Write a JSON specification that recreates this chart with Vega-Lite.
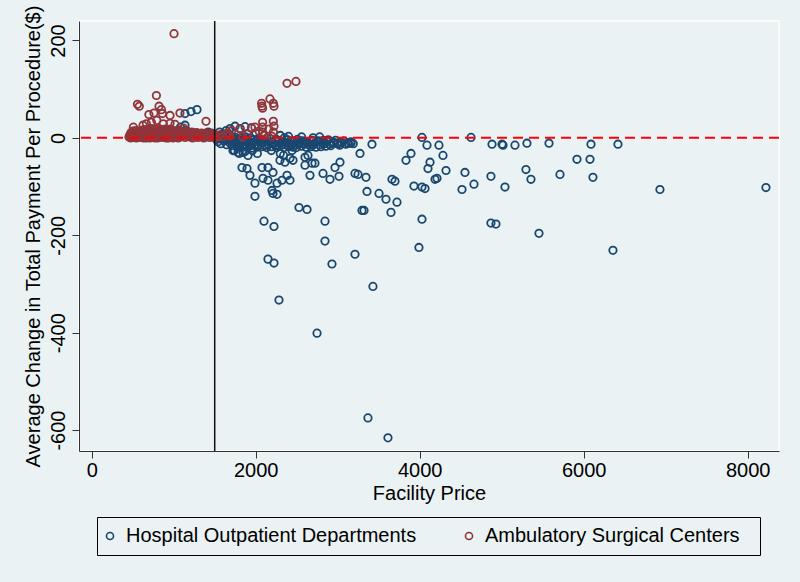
{
  "$schema": "https://vega.github.io/schema/vega-lite/v6.json",
  "width": 700,
  "height": 430,
  "autosize": {"type": "none"},
  "padding": {"left": 79, "top": 21, "right": 21, "bottom": 131},
  "background": "#EAF2F3",
  "config": {
    "view": {"stroke": "#FFFFFF", "strokeWidth": 1.5, "fill": "#EAF2F3"},
    "font": "Liberation Sans",
    "axis": {
      "labelFont": "Liberation Sans", "titleFont": "Liberation Sans",
      "labelFontSize": 20, "titleFontSize": 20, "titleFontWeight": "normal",
      "labelColor": "#000000", "titleColor": "#000000",
      "domainColor": "#333333", "tickColor": "#333333", "domainWidth": 1, "tickWidth": 1,
      "grid": false, "tickSize": 7
    },
    "legend": {
      "labelFont": "Liberation Sans", "labelFontSize": 20, "labelColor": "#000000",
      "labelLimit": 500, "strokeColor": "#000000", "fillColor": "#EAF2F3",
      "padding": 9, "columnPadding": 45, "labelOffset": 6, "symbolOffset": -6,
      "symbolSize": 50, "symbolStrokeWidth": 1.6
    }
  },
  "datasets": {
    "pts": [
      {"x":6089,"y":-13,"g":"H"},{"x":6418,"y":-13,"g":"H"},{"x":5918,"y":-44,"g":"H"},{"x":6077,"y":-44,"g":"H"},
      {"x":5711,"y":-75,"g":"H"},{"x":6113,"y":-81,"g":"H"},{"x":6930,"y":-106,"g":"H"},{"x":8223,"y":-102,"g":"H"},
      {"x":6357,"y":-231,"g":"H"},{"x":2943,"y":-11,"g":"H"},{"x":2992,"y":-11,"g":"H"},{"x":3028,"y":-11,"g":"H"},
      {"x":3126,"y":-11,"g":"H"},{"x":3163,"y":-11,"g":"H"},{"x":3418,"y":-13,"g":"H"},{"x":3272,"y":-32,"g":"H"},
      {"x":3028,"y":-50,"g":"H"},{"x":2967,"y":-61,"g":"H"},{"x":2906,"y":-85,"g":"H"},{"x":3016,"y":-79,"g":"H"},
      {"x":3211,"y":-73,"g":"H"},{"x":3248,"y":-75,"g":"H"},{"x":3345,"y":-81,"g":"H"},{"x":3357,"y":-110,"g":"H"},
      {"x":3504,"y":-114,"g":"H"},{"x":3589,"y":-126,"g":"H"},{"x":3723,"y":-132,"g":"H"},{"x":3650,"y":-153,"g":"H"},
      {"x":3296,"y":-149,"g":"H"},{"x":3321,"y":-149,"g":"H"},{"x":3662,"y":-85,"g":"H"},{"x":3699,"y":-89,"g":"H"},
      {"x":3833,"y":-46,"g":"H"},{"x":3894,"y":-32,"g":"H"},{"x":3930,"y":-99,"g":"H"},{"x":4028,"y":-101,"g":"H"},
      {"x":4065,"y":-104,"g":"H"},{"x":4028,"y":1,"g":"H"},{"x":4089,"y":-15,"g":"H"},{"x":4235,"y":-15,"g":"H"},
      {"x":4284,"y":-36,"g":"H"},{"x":4126,"y":-50,"g":"H"},{"x":4101,"y":-63,"g":"H"},{"x":4321,"y":-67,"g":"H"},
      {"x":4187,"y":-85,"g":"H"},{"x":4211,"y":-83,"g":"H"},{"x":4028,"y":-167,"g":"H"},{"x":3991,"y":-225,"g":"H"},
      {"x":4626,"y":1,"g":"H"},{"x":4882,"y":-13,"g":"H"},{"x":5004,"y":-13,"g":"H"},{"x":5016,"y":-15,"g":"H"},
      {"x":5162,"y":-15,"g":"H"},{"x":5308,"y":-11,"g":"H"},{"x":5577,"y":-11,"g":"H"},{"x":5296,"y":-65,"g":"H"},
      {"x":5357,"y":-85,"g":"H"},{"x":4869,"y":-79,"g":"H"},{"x":5040,"y":-101,"g":"H"},{"x":4552,"y":-71,"g":"H"},
      {"x":4662,"y":-95,"g":"H"},{"x":4516,"y":-106,"g":"H"},{"x":4869,"y":-175,"g":"H"},{"x":4930,"y":-177,"g":"H"},
      {"x":5455,"y":-196,"g":"H"},{"x":3430,"y":-305,"g":"H"},{"x":3211,"y":-239,"g":"H"},{"x":2930,"y":-259,"g":"H"},
      {"x":2845,"y":-212,"g":"H"},{"x":2845,"y":-171,"g":"H"},{"x":2101,"y":-171,"g":"H"},{"x":2223,"y":-182,"g":"H"},
      {"x":2150,"y":-249,"g":"H"},{"x":2223,"y":-257,"g":"H"},{"x":2284,"y":-333,"g":"H"},{"x":2748,"y":-401,"g":"H"},
      {"x":3369,"y":-575,"g":"H"},{"x":3613,"y":-616,"g":"H"},{"x":2528,"y":-143,"g":"H"},{"x":2626,"y":-147,"g":"H"},
      {"x":1687,"y":19,"g":"H"},{"x":1809,"y":19,"g":"H"},{"x":1723,"y":-26,"g":"H"},{"x":1784,"y":-30,"g":"H"},
      {"x":1845,"y":-30,"g":"H"},{"x":1906,"y":-36,"g":"H"},{"x":1833,"y":-61,"g":"H"},{"x":1894,"y":-63,"g":"H"},
      {"x":1930,"y":-77,"g":"H"},{"x":2077,"y":-61,"g":"H"},{"x":1991,"y":-93,"g":"H"},{"x":1991,"y":-120,"g":"H"},
      {"x":2150,"y":-61,"g":"H"},{"x":2211,"y":-71,"g":"H"},{"x":2089,"y":-83,"g":"H"},{"x":2150,"y":-87,"g":"H"},
      {"x":2260,"y":-93,"g":"H"},{"x":2199,"y":-108,"g":"H"},{"x":2211,"y":-114,"g":"H"},{"x":2260,"y":-116,"g":"H"},
      {"x":2321,"y":-87,"g":"H"},{"x":2296,"y":-46,"g":"H"},{"x":2382,"y":-77,"g":"H"},{"x":2418,"y":-87,"g":"H"},
      {"x":2357,"y":-50,"g":"H"},{"x":2418,"y":-42,"g":"H"},{"x":2455,"y":-46,"g":"H"},{"x":2443,"y":-26,"g":"H"},
      {"x":2455,"y":-19,"g":"H"},{"x":2601,"y":-40,"g":"H"},{"x":2638,"y":-36,"g":"H"},{"x":2601,"y":-56,"g":"H"},
      {"x":2687,"y":-52,"g":"H"},{"x":2723,"y":-52,"g":"H"},{"x":2662,"y":-77,"g":"H"},{"x":2821,"y":-73,"g":"H"},
      {"x":1740,"y":-26,"g":"H"},{"x":1800,"y":-32,"g":"H"},{"x":1870,"y":-28,"g":"H"},{"x":1960,"y":-26,"g":"H"},
      {"x":2020,"y":-32,"g":"H"},{"x":2190,"y":-26,"g":"H"},{"x":2300,"y":-32,"g":"H"},{"x":2340,"y":-36,"g":"H"},
      {"x":1530,"y":3,"g":"H"},{"x":1560,"y":-2,"g":"H"},{"x":1590,"y":5,"g":"H"},{"x":1620,"y":0,"g":"H"},
      {"x":1650,"y":-4,"g":"H"},{"x":1680,"y":2,"g":"H"},{"x":1700,"y":-6,"g":"H"},{"x":1730,"y":-1,"g":"H"},
      {"x":1760,"y":-8,"g":"H"},{"x":1790,"y":-3,"g":"H"},{"x":1820,"y":-10,"g":"H"},{"x":1850,"y":-5,"g":"H"},
      {"x":1880,"y":-2,"g":"H"},{"x":1910,"y":-9,"g":"H"},{"x":1940,"y":-12,"g":"H"},{"x":1970,"y":-4,"g":"H"},
      {"x":2000,"y":-7,"g":"H"},{"x":2030,"y":-14,"g":"H"},{"x":2060,"y":-3,"g":"H"},{"x":2090,"y":-10,"g":"H"},
      {"x":2120,"y":-6,"g":"H"},{"x":2150,"y":-13,"g":"H"},{"x":2180,"y":-2,"g":"H"},{"x":2210,"y":-9,"g":"H"},
      {"x":2240,"y":-16,"g":"H"},{"x":2270,"y":-5,"g":"H"},{"x":2300,"y":-11,"g":"H"},{"x":2330,"y":-7,"g":"H"},
      {"x":2360,"y":-14,"g":"H"},{"x":2390,"y":-4,"g":"H"},{"x":2420,"y":-12,"g":"H"},{"x":2450,"y":-8,"g":"H"},
      {"x":2480,"y":-15,"g":"H"},{"x":2510,"y":-3,"g":"H"},{"x":2540,"y":-10,"g":"H"},{"x":2570,"y":-6,"g":"H"},
      {"x":2600,"y":-13,"g":"H"},{"x":2630,"y":-9,"g":"H"},{"x":2660,"y":-15,"g":"H"},{"x":2690,"y":-5,"g":"H"},
      {"x":2720,"y":-11,"g":"H"},{"x":2750,"y":-8,"g":"H"},{"x":2780,"y":-14,"g":"H"},{"x":2810,"y":-10,"g":"H"},
      {"x":2840,"y":-12,"g":"H"},{"x":2870,"y":-7,"g":"H"},{"x":2900,"y":-13,"g":"H"},{"x":2950,"y":-9,"g":"H"},
      {"x":3000,"y":-12,"g":"H"},{"x":3050,"y":-10,"g":"H"},{"x":3100,"y":-13,"g":"H"},
      {"x":1540,"y":-8,"g":"H"},{"x":1575,"y":-12,"g":"H"},{"x":1610,"y":-6,"g":"H"},{"x":1645,"y":-14,"g":"H"},
      {"x":1675,"y":-9,"g":"H"},{"x":1710,"y":-16,"g":"H"},{"x":1745,"y":-11,"g":"H"},{"x":1775,"y":-18,"g":"H"},
      {"x":1805,"y":-13,"g":"H"},{"x":1835,"y":-20,"g":"H"},{"x":1865,"y":-15,"g":"H"},{"x":1895,"y":-19,"g":"H"},
      {"x":1925,"y":-17,"g":"H"},{"x":1955,"y":-21,"g":"H"},{"x":1985,"y":-15,"g":"H"},{"x":2015,"y":-19,"g":"H"},
      {"x":2045,"y":-9,"g":"H"},{"x":2075,"y":-18,"g":"H"},{"x":2105,"y":-16,"g":"H"},{"x":2135,"y":-20,"g":"H"},
      {"x":2165,"y":-8,"g":"H"},{"x":2195,"y":-18,"g":"H"},{"x":2225,"y":-12,"g":"H"},{"x":2255,"y":-20,"g":"H"},
      {"x":2285,"y":-17,"g":"H"},{"x":2315,"y":-15,"g":"H"},{"x":2345,"y":-20,"g":"H"},{"x":2375,"y":-10,"g":"H"},
      {"x":2405,"y":-18,"g":"H"},{"x":2435,"y":-14,"g":"H"},{"x":2465,"y":-6,"g":"H"},{"x":2495,"y":-20,"g":"H"},
      {"x":2525,"y":-13,"g":"H"},{"x":2555,"y":-17,"g":"H"},{"x":2585,"y":-9,"g":"H"},{"x":2615,"y":-19,"g":"H"},
      {"x":2645,"y":-11,"g":"H"},{"x":2675,"y":-18,"g":"H"},{"x":2705,"y":-14,"g":"H"},{"x":2735,"y":-19,"g":"H"},
      {"x":2765,"y":-6,"g":"H"},{"x":2795,"y":-18,"g":"H"},{"x":2825,"y":-5,"g":"H"},{"x":2855,"y":-17,"g":"H"},
      {"x":2885,"y":-4,"g":"H"},{"x":2915,"y":-16,"g":"H"},{"x":2975,"y":-5,"g":"H"},{"x":3025,"y":-15,"g":"H"},
      {"x":3075,"y":-6,"g":"H"},{"x":3130,"y":-11,"g":"H"},{"x":3160,"y":-8,"g":"H"},{"x":3190,"y":-12,"g":"H"},
      {"x":1520,"y":-3,"g":"H"},{"x":1545,"y":1,"g":"H"},{"x":1570,"y":4,"g":"H"},{"x":1605,"y":-1,"g":"H"},
      {"x":1635,"y":3,"g":"H"},{"x":1665,"y":-2,"g":"H"},{"x":1695,"y":4,"g":"H"},{"x":1725,"y":-4,"g":"H"},
      {"x":1755,"y":1,"g":"H"},{"x":1785,"y":-6,"g":"H"},{"x":1815,"y":0,"g":"H"},{"x":1845,"y":-8,"g":"H"},
      {"x":1875,"y":2,"g":"H"},{"x":1905,"y":-4,"g":"H"},{"x":1935,"y":0,"g":"H"},{"x":1965,"y":-9,"g":"H"},
      {"x":2025,"y":-2,"g":"H"},{"x":2140,"y":-1,"g":"H"},{"x":2250,"y":-3,"g":"H"},{"x":2350,"y":0,"g":"H"},
      {"x":1560,"y":12,"g":"H"},{"x":1600,"y":8,"g":"H"},{"x":1748,"y":24,"g":"H"},{"x":1870,"y":23,"g":"H"},
      {"x":1948,"y":20,"g":"H"},{"x":1640,"y":15,"g":"H"},{"x":2000,"y":10,"g":"H"},{"x":2300,"y":5,"g":"H"},
      {"x":2400,"y":3,"g":"H"},{"x":2700,"y":0,"g":"H"},{"x":2780,"y":2,"g":"H"},{"x":2560,"y":2,"g":"H"},
      {"x":1082,"y":22,"g":"H"},{"x":1138,"y":26,"g":"H"},{"x":1138,"y":50,"g":"H"},{"x":1211,"y":54,"g":"H"},
      {"x":1284,"y":58,"g":"H"},{"x":1400,"y":5,"g":"H"},{"x":1200,"y":10,"g":"H"},{"x":1250,"y":5,"g":"H"},
      {"x":1300,"y":8,"g":"H"},{"x":1350,"y":3,"g":"H"},{"x":1450,"y":6,"g":"H"},{"x":1100,"y":4,"g":"H"},
      {"x":1000,"y":3,"g":"H"},{"x":950,"y":8,"g":"H"},{"x":1050,"y":12,"g":"H"},{"x":1150,"y":15,"g":"H"},
      {"x":1420,"y":12,"g":"H"},{"x":1480,"y":2,"g":"H"},

      {"x":455,"y":2,"g":"A"},{"x":465,"y":6,"g":"A"},{"x":475,"y":0,"g":"A"},{"x":485,"y":4,"g":"A"},
      {"x":495,"y":9,"g":"A"},{"x":505,"y":1,"g":"A"},{"x":515,"y":5,"g":"A"},{"x":525,"y":3,"g":"A"},
      {"x":535,"y":8,"g":"A"},{"x":545,"y":0,"g":"A"},{"x":555,"y":11,"g":"A"},{"x":565,"y":4,"g":"A"},
      {"x":575,"y":7,"g":"A"},{"x":585,"y":2,"g":"A"},{"x":595,"y":10,"g":"A"},{"x":605,"y":5,"g":"A"},
      {"x":615,"y":1,"g":"A"},{"x":625,"y":8,"g":"A"},{"x":635,"y":13,"g":"A"},{"x":645,"y":3,"g":"A"},
      {"x":655,"y":6,"g":"A"},{"x":665,"y":0,"g":"A"},{"x":675,"y":10,"g":"A"},{"x":685,"y":4,"g":"A"},
      {"x":695,"y":15,"g":"A"},{"x":705,"y":7,"g":"A"},{"x":715,"y":2,"g":"A"},{"x":725,"y":9,"g":"A"},
      {"x":735,"y":5,"g":"A"},{"x":745,"y":12,"g":"A"},{"x":755,"y":1,"g":"A"},{"x":765,"y":7,"g":"A"},
      {"x":775,"y":3,"g":"A"},{"x":785,"y":10,"g":"A"},{"x":795,"y":6,"g":"A"},{"x":805,"y":0,"g":"A"},
      {"x":815,"y":13,"g":"A"},{"x":825,"y":4,"g":"A"},{"x":835,"y":8,"g":"A"},{"x":845,"y":2,"g":"A"},
      {"x":855,"y":11,"g":"A"},{"x":865,"y":5,"g":"A"},{"x":875,"y":9,"g":"A"},{"x":885,"y":1,"g":"A"},
      {"x":895,"y":7,"g":"A"},{"x":905,"y":3,"g":"A"},{"x":915,"y":12,"g":"A"},{"x":925,"y":6,"g":"A"},
      {"x":935,"y":0,"g":"A"},{"x":945,"y":9,"g":"A"},{"x":955,"y":4,"g":"A"},{"x":965,"y":14,"g":"A"},
      {"x":975,"y":2,"g":"A"},{"x":985,"y":7,"g":"A"},{"x":995,"y":5,"g":"A"},{"x":1005,"y":10,"g":"A"},
      {"x":1015,"y":1,"g":"A"},{"x":1025,"y":6,"g":"A"},{"x":1035,"y":3,"g":"A"},{"x":1045,"y":8,"g":"A"},
      {"x":1055,"y":0,"g":"A"},{"x":1065,"y":5,"g":"A"},{"x":1075,"y":11,"g":"A"},{"x":1085,"y":2,"g":"A"},
      {"x":1095,"y":7,"g":"A"},{"x":1110,"y":4,"g":"A"},{"x":1125,"y":9,"g":"A"},{"x":1140,"y":1,"g":"A"},
      {"x":1155,"y":6,"g":"A"},{"x":1170,"y":3,"g":"A"},{"x":1185,"y":8,"g":"A"},{"x":1200,"y":2,"g":"A"},
      {"x":1215,"y":5,"g":"A"},{"x":1230,"y":0,"g":"A"},{"x":1245,"y":7,"g":"A"},{"x":1260,"y":3,"g":"A"},
      {"x":1275,"y":9,"g":"A"},{"x":1290,"y":1,"g":"A"},{"x":1305,"y":5,"g":"A"},{"x":1320,"y":2,"g":"A"},
      {"x":1335,"y":8,"g":"A"},{"x":1350,"y":4,"g":"A"},{"x":1365,"y":0,"g":"A"},{"x":1380,"y":6,"g":"A"},
      {"x":1395,"y":2,"g":"A"},{"x":1410,"y":7,"g":"A"},{"x":1425,"y":4,"g":"A"},{"x":1440,"y":1,"g":"A"},
      {"x":1455,"y":8,"g":"A"},{"x":1470,"y":3,"g":"A"},{"x":1485,"y":5,"g":"A"},{"x":1500,"y":1,"g":"A"},
      {"x":1515,"y":4,"g":"A"},{"x":1530,"y":2,"g":"A"},{"x":1560,"y":6,"g":"A"},{"x":1600,"y":3,"g":"A"},
      {"x":1640,"y":8,"g":"A"},{"x":1680,"y":4,"g":"A"},
      {"x":470,"y":3,"g":"A"},{"x":490,"y":1,"g":"A"},{"x":510,"y":7,"g":"A"},{"x":530,"y":2,"g":"A"},
      {"x":550,"y":5,"g":"A"},{"x":570,"y":1,"g":"A"},{"x":590,"y":4,"g":"A"},{"x":610,"y":3,"g":"A"},
      {"x":630,"y":0,"g":"A"},{"x":650,"y":9,"g":"A"},{"x":670,"y":2,"g":"A"},{"x":690,"y":6,"g":"A"},
      {"x":710,"y":0,"g":"A"},{"x":730,"y":3,"g":"A"},{"x":750,"y":5,"g":"A"},{"x":770,"y":0,"g":"A"},
      {"x":790,"y":2,"g":"A"},{"x":810,"y":8,"g":"A"},{"x":830,"y":1,"g":"A"},{"x":850,"y":5,"g":"A"},
      {"x":870,"y":2,"g":"A"},{"x":890,"y":10,"g":"A"},{"x":910,"y":0,"g":"A"},{"x":930,"y":4,"g":"A"},
      {"x":950,"y":2,"g":"A"},{"x":970,"y":8,"g":"A"},{"x":990,"y":0,"g":"A"},
      {"x":480,"y":11,"g":"A"},{"x":500,"y":14,"g":"A"},{"x":520,"y":10,"g":"A"},{"x":540,"y":15,"g":"A"},
      {"x":560,"y":12,"g":"A"},{"x":580,"y":14,"g":"A"},{"x":600,"y":11,"g":"A"},{"x":620,"y":16,"g":"A"},
      {"x":640,"y":12,"g":"A"},{"x":660,"y":17,"g":"A"},{"x":680,"y":12,"g":"A"},{"x":700,"y":16,"g":"A"},
      {"x":720,"y":19,"g":"A"},{"x":740,"y":14,"g":"A"},{"x":760,"y":18,"g":"A"},{"x":780,"y":12,"g":"A"},
      {"x":800,"y":16,"g":"A"},{"x":820,"y":19,"g":"A"},{"x":840,"y":13,"g":"A"},{"x":860,"y":17,"g":"A"},
      {"x":880,"y":14,"g":"A"},{"x":900,"y":18,"g":"A"},{"x":920,"y":13,"g":"A"},{"x":940,"y":16,"g":"A"},
      {"x":960,"y":18,"g":"A"},{"x":980,"y":12,"g":"A"},{"x":1000,"y":15,"g":"A"},{"x":1020,"y":11,"g":"A"},
      {"x":1040,"y":14,"g":"A"},{"x":1060,"y":16,"g":"A"},{"x":1080,"y":10,"g":"A"},{"x":1100,"y":13,"g":"A"},
      {"x":1130,"y":11,"g":"A"},{"x":1160,"y":14,"g":"A"},{"x":1190,"y":10,"g":"A"},{"x":1220,"y":12,"g":"A"},
      {"x":1250,"y":10,"g":"A"},{"x":1280,"y":11,"g":"A"},{"x":1310,"y":9,"g":"A"},{"x":1340,"y":10,"g":"A"},
      {"x":1370,"y":8,"g":"A"},{"x":1400,"y":10,"g":"A"},{"x":1430,"y":9,"g":"A"},{"x":1460,"y":10,"g":"A"},
      {"x":1490,"y":8,"g":"A"},
      {"x":1004,"y":214,"g":"A"},{"x":558,"y":69,"g":"A"},{"x":580,"y":65,"g":"A"},{"x":697,"y":48,"g":"A"},
      {"x":759,"y":51,"g":"A"},{"x":821,"y":65,"g":"A"},{"x":850,"y":58,"g":"A"},{"x":862,"y":50,"g":"A"},
      {"x":955,"y":46,"g":"A"},{"x":728,"y":32,"g":"A"},{"x":793,"y":36,"g":"A"},{"x":873,"y":29,"g":"A"},
      {"x":955,"y":30,"g":"A"},{"x":1016,"y":28,"g":"A"},{"x":1076,"y":51,"g":"A"},{"x":1394,"y":34,"g":"A"},
      {"x":626,"y":26,"g":"A"},{"x":667,"y":29,"g":"A"},{"x":508,"y":22,"g":"A"},{"x":789,"y":87,"g":"A"},
      {"x":1122,"y":20,"g":"A"},
      {"x":2382,"y":112,"g":"A"},{"x":2491,"y":116,"g":"A"},{"x":2076,"y":65,"g":"A"},{"x":2084,"y":61,"g":"A"},
      {"x":2072,"y":71,"g":"A"},{"x":2174,"y":80,"g":"A"},{"x":2215,"y":71,"g":"A"},{"x":2223,"y":65,"g":"A"},
      {"x":2084,"y":32,"g":"A"},{"x":2084,"y":22,"g":"A"},{"x":2084,"y":12,"g":"A"},{"x":2215,"y":34,"g":"A"},
      {"x":2223,"y":24,"g":"A"},{"x":2215,"y":12,"g":"A"},{"x":1707,"y":15,"g":"A"},{"x":1841,"y":2,"g":"A"},
      {"x":1809,"y":19,"g":"A"},{"x":1948,"y":21,"g":"A"},{"x":1991,"y":22,"g":"A"},{"x":1662,"y":10,"g":"A"},
      {"x":2100,"y":5,"g":"A"},{"x":2200,"y":3,"g":"A"},{"x":1900,"y":8,"g":"A"},{"x":2040,"y":14,"g":"A"},
      {"x":2160,"y":18,"g":"A"}
    ]
  },
  "layer": [
    {
      "data": {"name": "pts"},
      "mark": {"type": "point", "shape": "circle", "filled": false, "size": 55, "strokeWidth": 1.8, "opacity": 1},
      "encoding": {
        "x": {"field": "x", "type": "quantitative", "title": "Facility Price",
              "scale": {"domain": [-155, 8382], "nice": false, "zero": false},
              "axis": {"values": [0, 2000, 4000, 6000, 8000], "labelExpr": "'' + datum.value", "labelPadding": 2, "titlePadding": 3}},
        "y": {"field": "y", "type": "quantitative", "title": "Average Change in Total Payment Per Procedure($)",
              "scale": {"domain": [-643, 240], "nice": false, "zero": false},
              "axis": {"values": [-600, -400, -200, 0, 200], "labelExpr": "'' + datum.value", "labelAngle": -90, "labelAlign": "center", "labelBaseline": "bottom", "labelPadding": 4, "titlePadding": 5}},
        "color": {"field": "g", "type": "nominal",
                  "scale": {"domain": ["H", "A"], "range": ["#1A476F", "#90353B"]},
                  "legend": {"title": null, "orient": "none", "legendX": 18, "legendY": 496, "direction": "horizontal",
                             "labelExpr": "datum.label == 'H' ? 'Hospital Outpatient Departments' : 'Ambulatory Surgical Centers\u00a0\u00a0\u200b'"}}
      }
    },
    {
      "data": {"values": [{"y": 0}]},
      "mark": {"type": "rule", "color": "#FF0000", "strokeWidth": 2, "strokeDash": [10, 6]},
      "encoding": {"y": {"field": "y", "type": "quantitative", "title": "Average Change in Total Payment Per Procedure($)"}}
    },
    {
      "data": {"values": [{"x": 1500}]},
      "mark": {"type": "rule", "color": "#111111", "strokeWidth": 1.5},
      "encoding": {"x": {"field": "x", "type": "quantitative", "title": "Facility Price"}}
    }
  ]
}
